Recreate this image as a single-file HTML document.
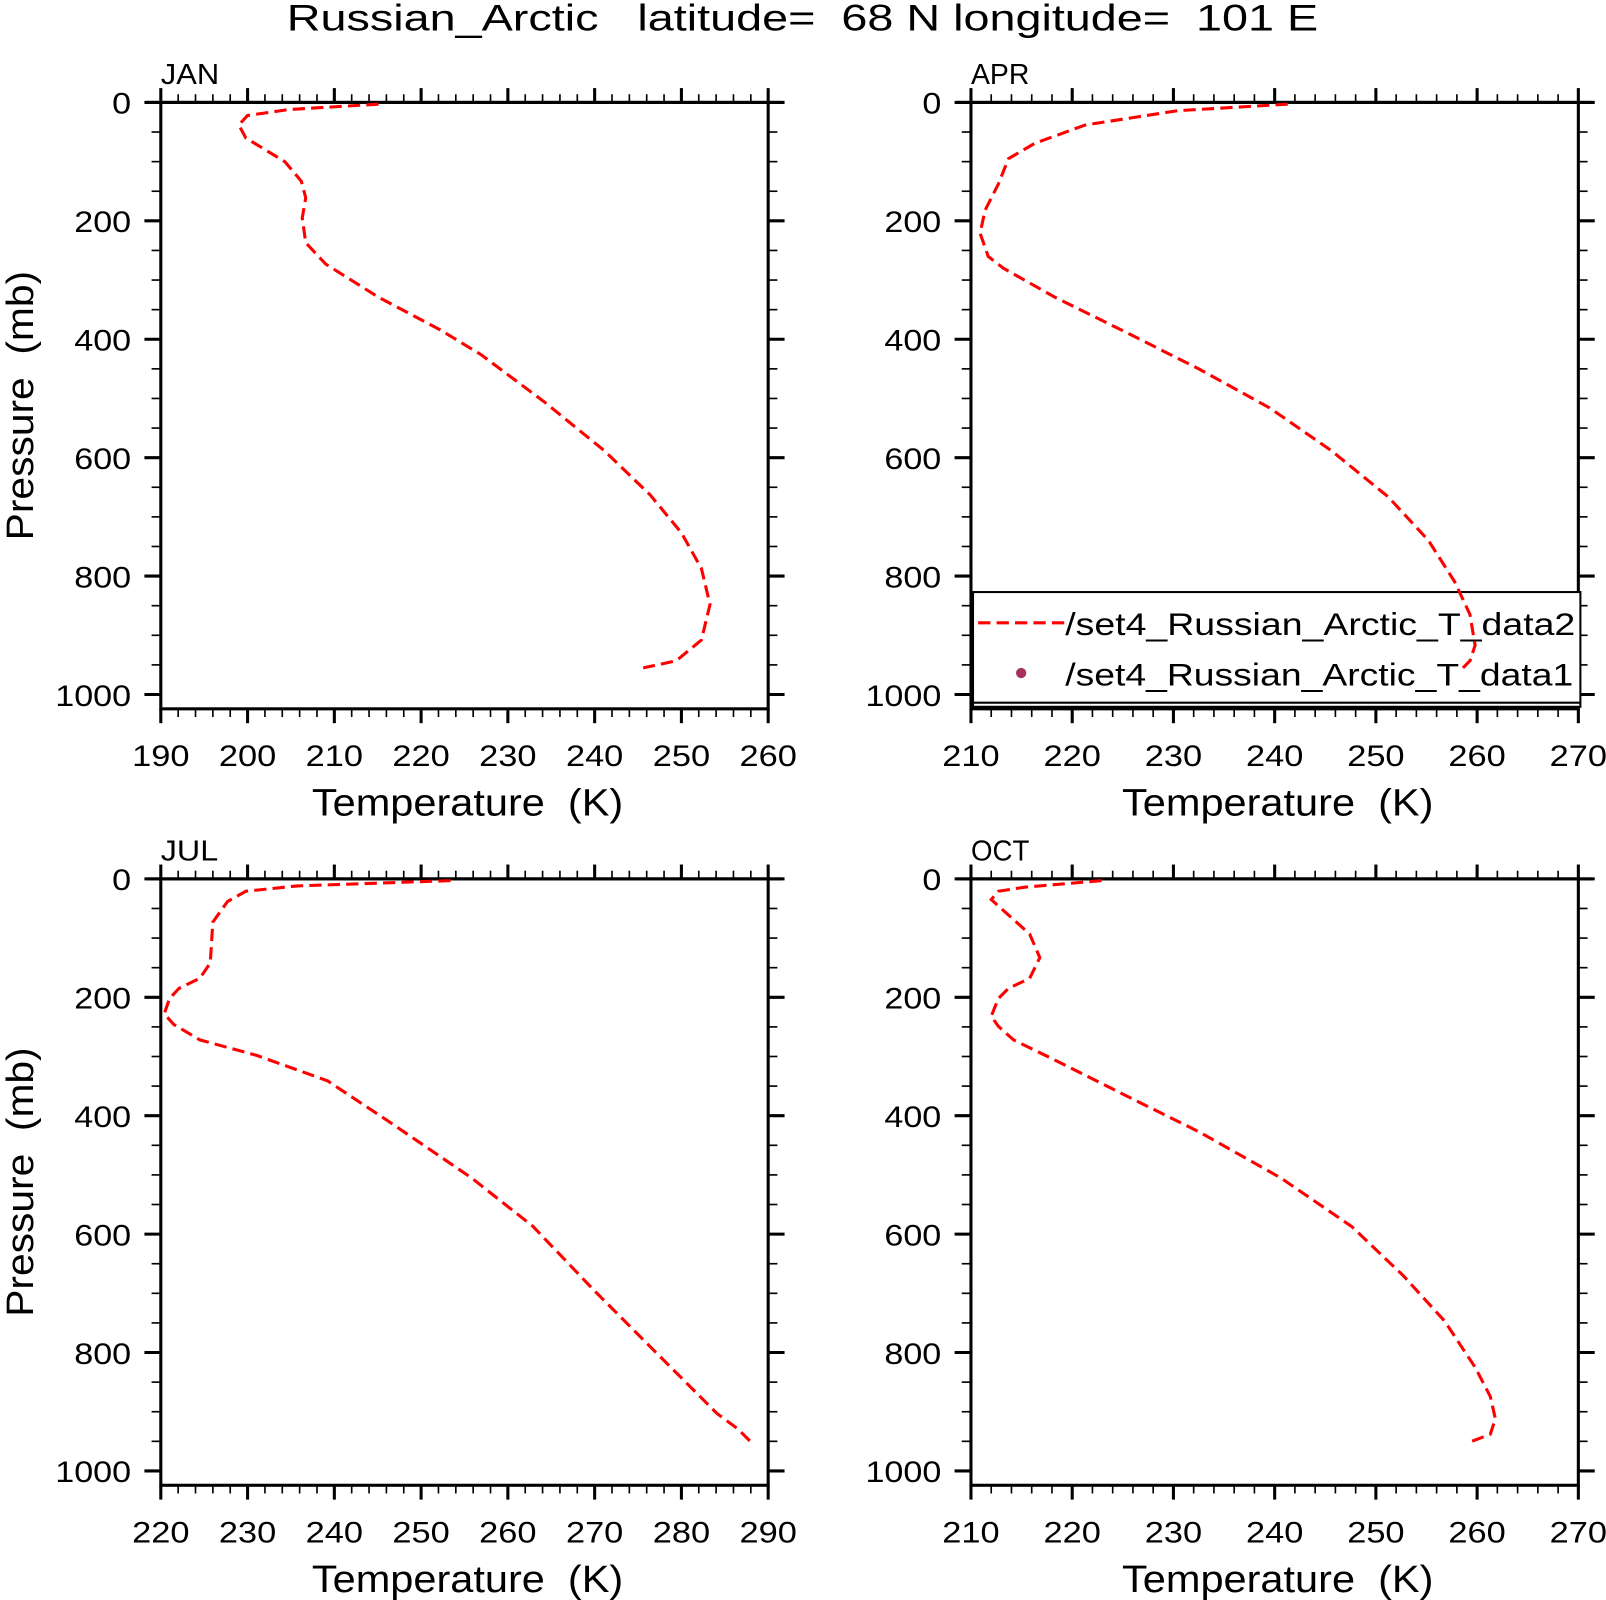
<!DOCTYPE html>
<html><head><meta charset="utf-8"><style>
html,body{margin:0;padding:0;background:#fff}
svg{display:block}
text{font-family:"Liberation Sans",sans-serif;fill:#000;white-space:pre}
</style></head><body>
<svg id="chart" width="1606" height="1600" viewBox="0 0 1568 1562" preserveAspectRatio="none" xmlns="http://www.w3.org/2000/svg">
<rect width="1568" height="1562" fill="#fff"/>
<text x="280" y="30" font-size="36" textLength="1007" lengthAdjust="spacingAndGlyphs" xml:space="preserve">Russian_Arctic   latitude=  68 N longitude=  101 E</text>
</svg>
<script>
// JAN
const janP = [3,12,22,38,60,100,133,161,195,237,273,329,384,426,507,588,663,727,787,848,908,943,955];
const janT = [215.1,204.8,200,199,199.8,204.3,206.2,206.7,206.3,206.7,209,215.1,222.2,226.9,234.3,241.1,246.4,250,252.3,253.3,252.3,249.4,245.6];
// APR
const aprP = [3,14,38,69,95,138,182,221,260,280,329,389,450,516,588,666,740,810,865,917,943,955];
const aprT = [241.3,230.4,221.3,216.3,213.7,212.7,211.4,210.9,211.7,213.2,218.3,225.4,232.5,239.5,245.6,251.2,255.2,257.8,259.3,259.8,259.3,258.6];
// JUL
const julP = [3,12,21,38,73,142,168,185,202,228,246,272,298,341,410,505,587,696,799,903,929,951];
const julT = [253.4,235.7,229.8,227.7,226,225.7,224.5,222.1,221,220.4,221.5,224.5,231,239.2,246.3,255.8,262.9,270,277,284.1,286.5,288];
// OCT
const octP = [3,14,21,35,61,93,133,168,185,202,232,249,272,306,367,427,505,587,670,747,825,874,912,938,951];
const octT = [222.9,215.3,212.7,212,213.7,215.8,216.8,215.8,213.7,212.7,212,212.7,214.2,218.3,225.4,232.5,240.6,247.6,252.7,256.8,259.8,261.3,261.8,261.3,259.3];
const janXTicks = [190,200,210,220,230,240,250,260];
const aprXTicks = [210,220,230,240,250,260,270];
const julXTicks = [220,230,240,250,260,270,280,290];
const octXTicks = [210,220,230,240,250,260,270];
const yTicks = [0,200,400,600,800,1000];

const NS = "http://www.w3.org/2000/svg";
const svg = document.getElementById('chart');
function mk(tag, attrs, parent){const e=document.createElementNS(NS,tag);for(const k in attrs)e.setAttribute(k,attrs[k]);(parent||svg).appendChild(e);return e;}

const panels = [
 {name:'jan',label:'JAN',L:157,R:750,T:100,ticks:janXTicks,P:janP,V:janT,ylab:true},
 {name:'apr',label:'APR',L:948,R:1541,T:100,ticks:aprXTicks,P:aprP,V:aprT,ylab:false,legend:true},
 {name:'jul',label:'JUL',L:157,R:750,T:858,ticks:julXTicks,P:julP,V:julT,ylab:true},
 {name:'oct',label:'OCT',L:948,R:1541,T:858,ticks:octXTicks,P:octP,V:octT,ylab:false}
];
panels.forEach(pn=>{
  const g = mk('g',{});
  
  
  const B = pn.T + 592;
  const xmin = pn.ticks[0], xmax = pn.ticks[pn.ticks.length-1];
  const xs = v => pn.L + (v-xmin)/(xmax-xmin)*(pn.R-pn.L);
  const ys = p => pn.T + p*0.578;
  const fr = mk('rect',{x:pn.L,y:pn.T,width:pn.R-pn.L,height:B-pn.T,fill:'none',stroke:'#000','stroke-width':3},g);
  
  
  mk('line',{x1:pn.L-14,y1:pn.T,x2:pn.R+14,y2:pn.T,stroke:'#000','stroke-width':3},g);
  for(let v=xmin; v<=xmax+0.001; v+=2){
    const x=xs(v), maj = Math.abs((v-xmin)%10)<0.01;
    const len = maj?14:8;
    mk('line',{x1:x,y1:pn.T,x2:x,y2:pn.T-len,stroke:'#000','stroke-width':maj?3:1.6},g);
    mk('line',{x1:x,y1:B,x2:x,y2:B+len,stroke:'#000','stroke-width':maj?3:1.6},g);
  }
  pn.ticks.forEach(v=>{
    const t=mk('text',{x:xs(v),y:B+56,'font-size':29,'text-anchor':'middle',textLength:56,lengthAdjust:'spacingAndGlyphs'},g);
    
    
    t.textContent=v;
  });
  for(let p=0;p<=1000;p+=50){
    const y=ys(p), maj = p%200===0;
    const len = maj?16:9;
    mk('line',{x1:pn.L,y1:y,x2:pn.L-len,y2:y,stroke:'#000','stroke-width':maj?3:1.6},g);
    mk('line',{x1:pn.R,y1:y,x2:pn.R+len,y2:y,stroke:'#000','stroke-width':maj?3:1.6},g);
  }
  yTicks.forEach(p=>{
    const s=String(p);
    const t=mk('text',{x:pn.L-29,y:ys(p)+11,'font-size':29,'text-anchor':'end',textLength:18.5*s.length,lengthAdjust:'spacingAndGlyphs'},g);
    
    
    t.textContent=s;
  });
  const lb=mk('text',{x:pn.L,y:pn.T-18,'font-size':28,textLength:pn.label==='JUL'?56:57,lengthAdjust:'spacingAndGlyphs'},g);
  
  
  lb.textContent=pn.label;
  const xt=mk('text',{x:(pn.L+pn.R)/2-149,y:B+104,'font-size':37,textLength:304,lengthAdjust:'spacingAndGlyphs'},g);
  
  
  xt.textContent='Temperature  (K)';
  if(pn.ylab){
    const cy=(pn.T+B)/2;
    const yt=mk('text',{x:32,y:cy,'font-size':37,'text-anchor':'middle',textLength:263,lengthAdjust:'spacingAndGlyphs',transform:`rotate(-90 32 ${cy})`},g);
    
    
    yt.textContent='Pressure  (mb)';
  }
  if(pn.legend){
    const lg=mk('g',{},g);
    
    
    mk('rect',{x:950,y:578,width:593,height:112,fill:'#fff',stroke:'#000','stroke-width':2},lg);
    mk('line',{x1:950,y1:686,x2:1543,y2:686,stroke:'#000','stroke-width':2},lg);
    const l1=mk('line',{x1:955,y1:608,x2:1040,y2:608,stroke:'#ff0000','stroke-width':3,'stroke-dasharray':'12 6'},lg);
    
    
    const t1=mk('text',{x:1040,y:620,'font-size':31,textLength:498,lengthAdjust:'spacingAndGlyphs'},lg);
    
    
    t1.textContent='/set4_Russian_Arctic_T_data2';
    const c=mk('circle',{cx:997,cy:657,r:5,fill:'#a8305e'},lg);
    
    
    const t2=mk('text',{x:1040,y:669,'font-size':31,textLength:496,lengthAdjust:'spacingAndGlyphs'},lg);
    
    
    t2.textContent='/set4_Russian_Arctic_T_data1';
  }
  const pts = pn.P.map((p,i)=>xs(pn.V[i]).toFixed(1)+','+ys(p).toFixed(1)).join(' ');
  const line=mk('polyline',{points:pts,fill:'none',stroke:'#ff0000','stroke-width':3,'stroke-dasharray':'12 6'},g);
  
  
});
</script>
</body></html>
